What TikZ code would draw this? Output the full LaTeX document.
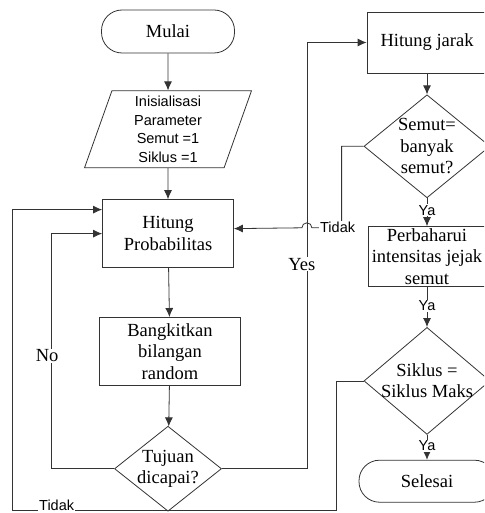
\documentclass[tikz,border=0pt]{standalone}
\usepackage{fontspec}
\setmainfont{Liberation Serif}
\newfontfamily\arialfont{Liberation Sans}
\usetikzlibrary{positioning, shapes.geometric, arrows.meta, calc}

\newcommand{\bigserif}{\fontsize{18.5}{21.5}\selectfont}
\newcommand{\smallsans}{\arialfont\fontsize{14.5}{18.5}\selectfont}

\begin{document}
\begin{tikzpicture}[
    x=1pt, y=1pt,
    line/.style={draw=black!80, line width=0.8pt},
    flow/.style={line, -{Latex[length=9pt, width=8pt]}},
    terminal/.style={rectangle, line, rounded corners=20.5pt, font=\bigserif},
    process/.style={rectangle, line, align=center, font=\bigserif, inner sep=1pt},
    io/.style={trapezium, trapezium left angle=76, trapezium right angle=104, trapezium stretches=true,
      line, align=center, font=\smallsans, minimum width=167pt, minimum height=77pt},
    decision/.style={diamond, line, inner sep=0pt},
    dtext/.style={align=center, font=\bigserif, inner sep=0pt},
    lbl/.style={fill=white, inner sep=1pt, font=\smallsans},
    lblserif/.style={fill=white, inner sep=1pt, font=\bigserif}
  ]
    \useasboundingbox (0,0) rectangle (484,-513);
    \clip (0,0) rectangle (484,-513);

    % left column
    \node[terminal, minimum width=133pt, minimum height=43pt] (mulai) at (168,-31.5) {Mulai};

    \node[io, below=37pt of mulai] (init) {Inisialisasi\\Parameter\\Semut =1\\Siklus =1};

    \node[process, minimum width=131pt, minimum height=68pt, below=31pt of init] (hitungp) {Hitung\\Probabilitas};

    \node[process, minimum width=141pt, minimum height=68pt, below=49pt of hitungp, xshift=2pt] (bangkit) {Bangkitkan\\bilangan\\random};

    \node[decision, minimum width=107pt, minimum height=85pt, below=40pt of bangkit, xshift=-2pt,
      label={[dtext]center:Tujuan\\dicapai?}] (tujuan) {};

    % right column
    \node[process, minimum width=120pt, minimum height=61pt] (hjarak) at (427,-42.5) {Hitung jarak};

    \node[decision, minimum width=126pt, minimum height=103pt, below=21pt of hjarak,
      label={[dtext]center:Semut=\\banyak\\semut?}] (semut) {};

    \node[process, minimum width=118pt, minimum height=60pt, below=28pt of semut] (perbah) {Perbaharui\\intensitas jejak\\semut};

    \node[decision, minimum width=126pt, minimum height=107pt, below=40pt of perbah,
      label={[dtext]center:Siklus =\\Siklus Maks}] (siklus) {};

    \node[terminal, minimum width=136pt, minimum height=42pt, below=25pt of siklus] (selesai) {Selesai};

    % connectors
    \draw[flow] (mulai) -- (init);
    \draw[flow] (init) -- (hitungp.north -| init.south);
    \draw[flow] (hitungp) -- (bangkit);
    \draw[flow] (bangkit) -- (tujuan);

    \draw[flow] (tujuan.west) -- ++(-63,0) |- node[lblserif, pos=0.24, xshift=-4pt]{No} (hitungp.west);
    \draw[flow] (tujuan.east) -- ++(85,0) coordinate (yesc) |- node[lblserif, pos=0.24, xshift=-5pt]{Yes} (hjarak.west);

    \draw[flow] (hjarak) -- (semut);
    \draw[flow] (semut.south) -- node[lbl, pos=0.43]{Ya} (perbah.north);
    \draw[flow] (perbah.south) -- node[lbl, pos=0.47]{Ya} (siklus.north);
    \draw[flow] (siklus.south) -- node[lbl, pos=0.44]{Ya} (selesai.north);

    \draw[flow] (semut.west) -- ++(-22,0) -- ++(0,-81.5) coordinate (tkc)
      -- ($(yesc |- tkc)+(5,0)$) arc (0:180:5) -- ([yshift=5pt]hitungp.east);
    \node[lbl, xshift=-4pt] at (tkc) {Tidak};

    \draw[flow] (siklus.west) -- ++(-27,0) -- ++(0,-129.5)
      -- node[lbl, pos=0.864, anchor=base]{Tidak} ++(-324,0) |- ([yshift=24pt]hitungp.west);
  \end{tikzpicture}
\end{document}
